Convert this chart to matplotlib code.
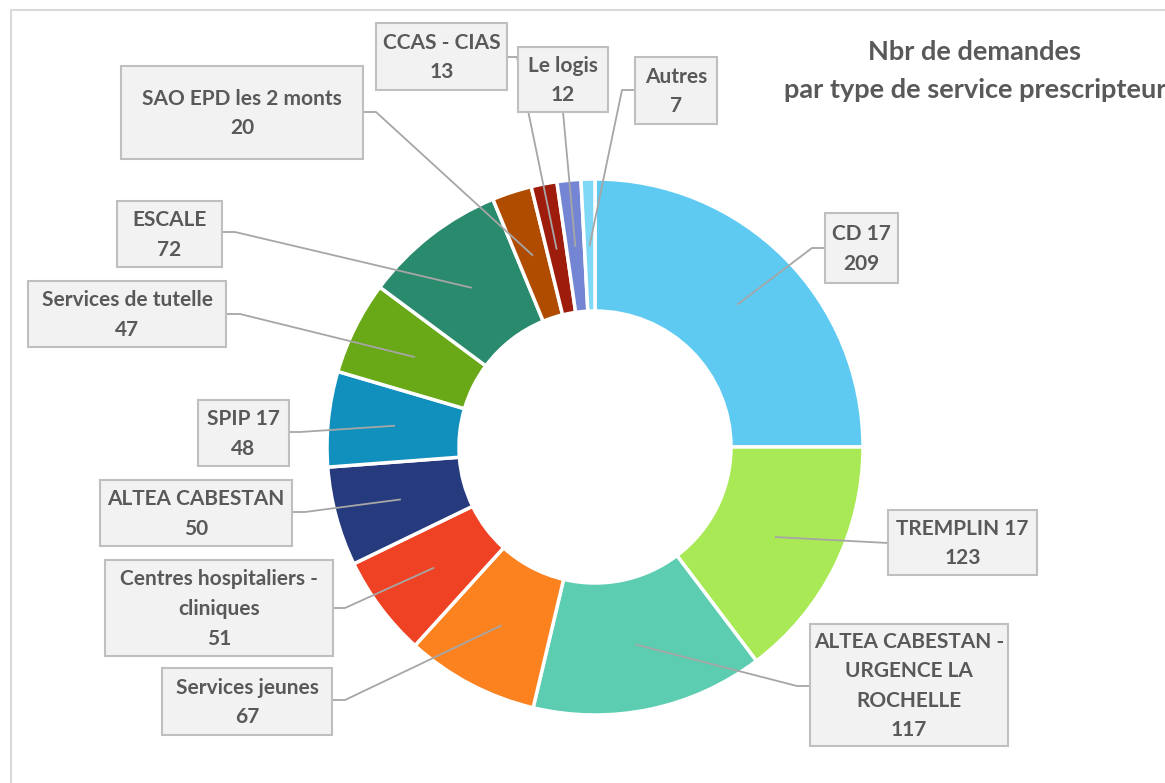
import numpy as np
import matplotlib
matplotlib.use("Agg")
from matplotlib import pyplot as plt
from matplotlib.patches import Rectangle

# data
labels = ["CD 17", "TREMPLIN 17", "ALTEA CABESTAN -\nURGENCE LA\nROCHELLE",
          "Services jeunes", "Centres hospitaliers -\ncliniques", "ALTEA CABESTAN",
          "SPIP 17", "Services de tutelle", "ESCALE", "SAO EPD les 2 monts",
          "CCAS - CIAS", "Le logis", "Autres"]
values = [209, 123, 117, 67, 51, 50, 48, 47, 72, 20, 13, 12, 7]
colors = ["#5ECAF2", "#A8E955", "#5CCDB0", "#FC8220", "#EF4224", "#263A7E",
          "#1190BE", "#69A816", "#2A8A6D", "#B04C00", "#9E1C0C", "#7385D3", "#7FD8F5"]

# label boxes in image pixels: left, top, right, bottom, then elbow x, elbow y
boxes = [(825, 213, 898, 283, 812, 248),
         (888, 510, 1037, 575, 888, 543),
         (810, 624, 1008, 746, 797, 686),
         (162, 668, 332, 735, 345, 700),
         (105, 560, 333, 656, 345, 608),
         (100, 480, 292, 546, 305, 512),
         (198, 400, 289, 466, 300, 432),
         (28, 281, 226, 347, 240, 314),
         (117, 201, 222, 267, 235, 232),
         (121, 66, 363, 159, 376, 112),
         (376, 23, 507, 90, 517, 57),
         (518, 47, 608, 112, 563, 112),
         (635, 57, 717, 124, 622, 90)]

W, H = 1165, 783
cx, cy = 595, H - 447
r_out, r_in = 268, 136
txt = "#595959"
plt.rcParams['font.family'] = ['Lato', 'DejaVu Sans']

fig = plt.figure(figsize=(11.65, 7.83), dpi=100)
ax = fig.add_axes([0, 0, 1, 1])

ax.pie(values, colors=colors, startangle=90, counterclock=False,
       center=(cx, cy), radius=r_out,
       wedgeprops=dict(width=r_out - r_in, edgecolor="white", linewidth=2.5))

ax.set_xlim(0, W)
ax.set_ylim(0, H)
ax.set_aspect("equal")
ax.axis("off")

# outer frame
ax.plot([11, 11, W], [0, H - 10, H - 10], color="#D9D9D9", lw=1.5)

# leader lines + boxes
total = sum(values)
cum = np.cumsum([0] + values)
for i, lab in enumerate(labels):
    mid = 90 - (cum[i] + values[i] / 2) / total * 360
    rm = (r_out + r_in) / 2
    px = cx + rm * np.cos(np.radians(mid))
    py = cy + rm * np.sin(np.radians(mid))
    l, t, r, b, ex, ey = boxes[i]
    # where the line leaves the box
    if ex < l:
        sx = l
    elif ex > r:
        sx = r
    else:
        sx = ex
    sy = ey
    ax.plot([sx, ex, px], [H - sy, H - ey, py], color="#A6A6A6", lw=1.3, zorder=3)

for i, lab in enumerate(labels):
    l, t, r, b, ex, ey = boxes[i]
    ax.add_patch(Rectangle((l, H - b), r - l, b - t, fc="#F2F2F2", ec="#BFBFBF",
                           lw=1.5, zorder=4))
    ax.text((l + r) / 2, H - (t + b) / 2 - 1, lab + "\n" + str(values[i]),
            ha="center", va="center", fontsize=15, fontweight="bold",
            color=txt, linespacing=1.6, zorder=5)

ax.text(975, H - 52, "Nbr de demandes", ha="center", va="center",
        fontsize=19.5, fontweight="bold", color=txt)
ax.text(975, H - 90, "par type de service prescripteur", ha="center", va="center",
        fontsize=19.5, fontweight="bold", color=txt)

fig.savefig("out.png", dpi=100)
